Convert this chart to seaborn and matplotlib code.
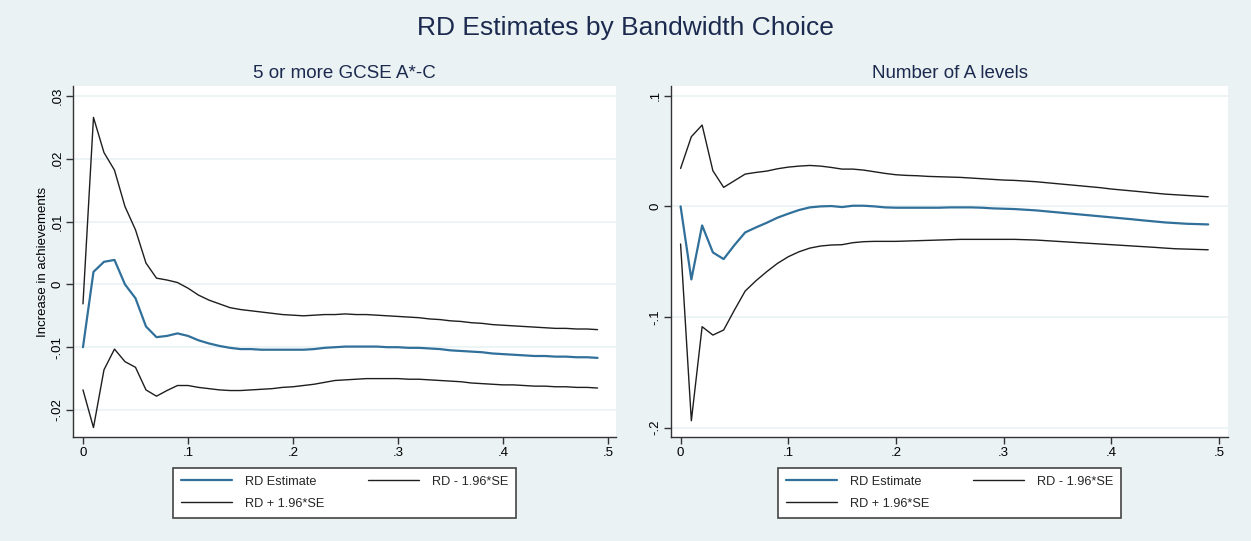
import matplotlib
matplotlib.use("Agg")
import matplotlib.pyplot as plt
import seaborn as sns
import pandas as pd

# ---------------- data ----------------
bandwidth = [0.00, 0.01, 0.02, 0.03, 0.04, 0.05, 0.06, 0.07, 0.08, 0.09,
             0.10, 0.11, 0.12, 0.13, 0.14, 0.15, 0.16, 0.17, 0.18, 0.19,
             0.20, 0.21, 0.22, 0.23, 0.24, 0.25, 0.26, 0.27, 0.28, 0.29,
             0.30, 0.31, 0.32, 0.33, 0.34, 0.35, 0.36, 0.37, 0.38, 0.39,
             0.40, 0.41, 0.42, 0.43, 0.44, 0.45, 0.46, 0.47, 0.48, 0.49]

gcse_upper = [-0.0031, 0.0266, 0.0210, 0.0182, 0.0124, 0.0087, 0.0034, 0.0010, 0.0007, 0.0003,
              -0.0006, -0.0017, -0.0025, -0.0031, -0.0037, -0.0040, -0.0042, -0.0044, -0.0046, -0.0048,
              -0.0049, -0.0050, -0.0049, -0.0048, -0.0048, -0.0047, -0.0048, -0.0048, -0.0049, -0.0050,
              -0.0051, -0.0052, -0.0053, -0.0055, -0.0056, -0.0058, -0.0059, -0.0061, -0.0062, -0.0064,
              -0.0065, -0.0066, -0.0067, -0.0068, -0.0069, -0.0070, -0.0070, -0.0071, -0.0071, -0.0072]
gcse_est = [-0.0100, 0.0020, 0.0036, 0.0039, 0.0000, -0.0022, -0.0067, -0.0084, -0.0082, -0.0078,
            -0.0082, -0.0089, -0.0094, -0.0098, -0.0101, -0.0103, -0.0103, -0.0104, -0.0104, -0.0104,
            -0.0104, -0.0104, -0.0103, -0.0101, -0.0100, -0.0099, -0.0099, -0.0099, -0.0099, -0.0100,
            -0.0100, -0.0101, -0.0101, -0.0102, -0.0103, -0.0105, -0.0106, -0.0107, -0.0108, -0.0110,
            -0.0111, -0.0112, -0.0113, -0.0114, -0.0114, -0.0115, -0.0115, -0.0116, -0.0116, -0.0117]
gcse_lower = [-0.0168, -0.0228, -0.0136, -0.0103, -0.0123, -0.0132, -0.0168, -0.0178, -0.0169, -0.0161,
              -0.0161, -0.0164, -0.0166, -0.0168, -0.0169, -0.0169, -0.0168, -0.0167, -0.0166, -0.0164,
              -0.0163, -0.0161, -0.0159, -0.0156, -0.0153, -0.0152, -0.0151, -0.0150, -0.0150, -0.0150,
              -0.0150, -0.0151, -0.0151, -0.0152, -0.0153, -0.0154, -0.0155, -0.0157, -0.0158, -0.0159,
              -0.0160, -0.0160, -0.0161, -0.0162, -0.0162, -0.0163, -0.0163, -0.0164, -0.0164, -0.0165]

alevel_upper = [0.0343, 0.0630, 0.0735, 0.0322, 0.0172, 0.0232, 0.0292, 0.0307, 0.0319, 0.0340,
                0.0355, 0.0364, 0.0370, 0.0364, 0.0352, 0.0337, 0.0337, 0.0328, 0.0313, 0.0298,
                0.0286, 0.0280, 0.0277, 0.0271, 0.0268, 0.0265, 0.0262, 0.0256, 0.0250, 0.0244,
                0.0238, 0.0235, 0.0229, 0.0223, 0.0214, 0.0205, 0.0196, 0.0187, 0.0178, 0.0169,
                0.0157, 0.0148, 0.0139, 0.0130, 0.0120, 0.0111, 0.0105, 0.0099, 0.0093, 0.0087]
alevel_est = [0.0000, -0.0660, -0.0172, -0.0416, -0.0476, -0.0350, -0.0235, -0.0190, -0.0148, -0.0102,
              -0.0066, -0.0033, -0.0009, 0.0000, 0.0003, -0.0006, 0.0006, 0.0006, 0.0000, -0.0009,
              -0.0012, -0.0012, -0.0012, -0.0012, -0.0012, -0.0009, -0.0009, -0.0009, -0.0012, -0.0018,
              -0.0021, -0.0024, -0.0030, -0.0036, -0.0045, -0.0054, -0.0063, -0.0072, -0.0081, -0.0090,
              -0.0099, -0.0108, -0.0117, -0.0127, -0.0136, -0.0145, -0.0151, -0.0157, -0.0160, -0.0163]
alevel_lower = [-0.0340, -0.1937, -0.1087, -0.1163, -0.1117, -0.0937, -0.0765, -0.0672, -0.0590, -0.0515,
                -0.0455, -0.0410, -0.0377, -0.0358, -0.0349, -0.0346, -0.0328, -0.0319, -0.0316, -0.0316,
                -0.0316, -0.0313, -0.0310, -0.0307, -0.0304, -0.0301, -0.0298, -0.0298, -0.0298, -0.0298,
                -0.0298, -0.0298, -0.0301, -0.0304, -0.0310, -0.0316, -0.0322, -0.0328, -0.0334, -0.0340,
                -0.0346, -0.0352, -0.0358, -0.0364, -0.0370, -0.0377, -0.0383, -0.0386, -0.0389, -0.0392]

series_labels = ["RD Estimate", "RD + 1.96*SE", "RD - 1.96*SE"]
panel_titles = ["5 or more GCSE A*-C", "Number of A levels"]
main_title = "RD Estimates by Bandwidth Choice"
y_label = "Increase in achievements"
x_ticks = [0, 0.1, 0.2, 0.3, 0.4, 0.5]
x_ticklabels = ["0", ".1", ".2", ".3", ".4", ".5"]
gcse_yticks = [-0.02, -0.01, 0, 0.01, 0.02, 0.03]
gcse_yticklabels = ["-.02", "-.01", "0", ".01", ".02", ".03"]
alevel_yticks = [-0.2, -0.1, 0, 0.1]
alevel_yticklabels = ["-.2", "-.1", "0", ".1"]

# ---------------- style ----------------
sns.set_style("white")
plt.rcParams["font.family"] = ["Liberation Sans", "DejaVu Sans"]

BG = "#EAF2F3"
BLUE = "#30709A"
BLACK = "#1E1E1E"
TITLE_C = "#1C2A4F"
GRID_C = "#EAF2F3"

W, H = 1251, 541
fig = plt.figure(figsize=(W / 100, H / 100), dpi=100, facecolor=BG)


def px_axes(l, r, t, b):
    return fig.add_axes([l / W, 1 - b / H, (r - l) / W, (b - t) / H])


ax1 = px_axes(73, 616, 86, 437)
ax2 = px_axes(671, 1228, 86, 437)

panels = [
    (ax1, gcse_est, gcse_upper, gcse_lower, (-0.0095, 0.5076), (-0.0243, 0.0316),
     gcse_yticks, gcse_yticklabels, panel_titles[0]),
    (ax2, alevel_est, alevel_upper, alevel_lower, (-0.0089, 0.5084), (-0.2084, 0.1088),
     alevel_yticks, alevel_yticklabels, panel_titles[1]),
]

for ax, est, up, lo, xl, yl, yt, ytl, ttl in panels:
    df = pd.DataFrame({"bw": bandwidth, "est": est, "up": up, "lo": lo})
    ax.set_facecolor("white")
    for yv in yt:
        ax.axhline(yv, color=GRID_C, lw=1.2, zorder=0)
    sns.lineplot(data=df, x="bw", y="est", ax=ax, color=BLUE, lw=1.6,
                 label=series_labels[0], legend=False)
    sns.lineplot(data=df, x="bw", y="up", ax=ax, color=BLACK, lw=1.0,
                 label=series_labels[1], legend=False)
    sns.lineplot(data=df, x="bw", y="lo", ax=ax, color=BLACK, lw=1.0,
                 label=series_labels[2], legend=False)
    ax.set_xlim(*xl)
    ax.set_ylim(*yl)
    ax.set_xticks(x_ticks)
    ax.set_xticklabels(x_ticklabels)
    ax.set_yticks(yt)
    ax.set_yticklabels(ytl, rotation=90, va="center")
    ax.tick_params(axis="both", direction="out", length=5, width=1, color="#333333",
                   labelsize=9.5, labelcolor="black", pad=2)
    ax.tick_params(axis="y", left=True)
    ax.tick_params(axis="x", bottom=True)
    for s in ["top", "right"]:
        ax.spines[s].set_visible(False)
    for s in ["left", "bottom"]:
        ax.spines[s].set_color("#333333")
        ax.spines[s].set_linewidth(1.0)
    ax.set_xlabel("")
    ax.set_ylabel("")
    ax.text(0.5, 1 + 13 / 351, ttl, transform=ax.transAxes, ha="center", va="center",
            fontsize=13.5, color=TITLE_C)
    handles, labels = ax.get_legend_handles_labels()
    leg = ax.legend(handles, labels, ncol=2, loc="upper center",
                    bbox_to_anchor=(0.5, -31 / 351), borderaxespad=0.0,
                    fontsize=9.2, frameon=True,
                    fancybox=False, handlelength=4.0, handletextpad=1.0,
                    columnspacing=3.4, labelspacing=0.8, borderpad=0.6)
    leg.get_frame().set_edgecolor("#444444")
    leg.get_frame().set_linewidth(1.2)
    leg.get_frame().set_facecolor("white")
    leg.get_frame().set_alpha(1)

ax1.set_ylabel(y_label, fontsize=9.5, color="black")
ax1.yaxis.set_label_coords(-24 / 543, 0.5)

fig.text(0.5, 1 - 28 / H, main_title, ha="center", va="center", fontsize=19, color=TITLE_C)

fig.savefig("out.png", dpi=100, facecolor=BG)
